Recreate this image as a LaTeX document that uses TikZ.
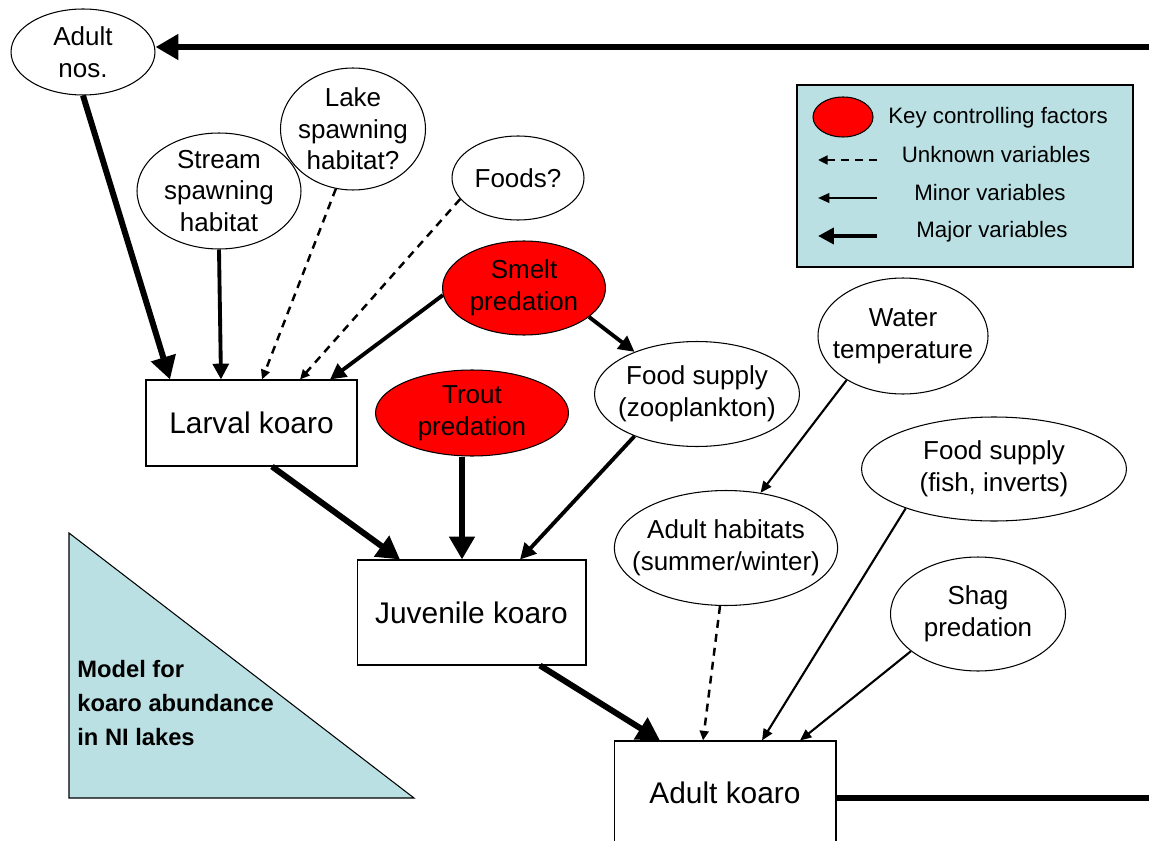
\documentclass[tikz,border=0pt]{standalone}
\usepackage{fontspec}
\setmainfont{Liberation Sans}
\usetikzlibrary{positioning,shapes.geometric,arrows.meta}
\definecolor{KeyRed}{HTML}{FF0000}
\definecolor{PanelBlue}{HTML}{BAE0E3}

\begin{document}
\begin{tikzpicture}[x=0.02cm, y=-0.02cm,
  every node/.style={align=center, inner sep=0pt},
  factor/.style={ellipse, draw, line width=0.6pt, fill=white, font=\fontsize{14.8}{18}\selectfont},
  keyfactor/.style={factor, fill=KeyRed},
  stage/.style={rectangle, draw, line width=0.6pt, fill=white, font=\fontsize{17}{20}\selectfont},
  legendtext/.style={font=\fontsize{12.7}{15}\selectfont},
  heavy/.style={line width=3.4pt, -{Triangle[length=13pt,width=14pt]}},
  major/.style={line width=2.2pt, -{Triangle[length=9pt,width=9pt]}},
  minor/.style={line width=1.2pt, -{Triangle[length=6.5pt,width=5.5pt]}},
  unknown/.style={line width=1.4pt, dash pattern=on 4.5pt off 3.5pt, -{Triangle[length=5.5pt,width=5pt]}}]
  \useasboundingbox (0,0) rectangle (1149,841);

  % model panel
  \draw[fill=PanelBlue, line width=0.6pt] (69,533) -- (69,798) -- (414,798) -- cycle;
  \node[anchor=west, align=left, font=\bfseries\fontsize{13.5}{19.6}\selectfont] (title) at (77,703) {Model for\\koaro abundance\\in NI lakes};

  % legend
  \node[draw, line width=0.8pt, fill=PanelBlue, minimum width=6.72cm, minimum height=3.64cm] (legend) at (965,176) {};
  \node[keyfactor, minimum width=1.2cm, minimum height=0.8cm] (keysample) at (843,117) {};
  \node[legendtext] (keytext) at (998,118) {Key controlling factors};
  \coordinate (unkA) at (877,160);
  \coordinate (unkB) at (818,160);
  \coordinate (minA) at (877,198);
  \coordinate (minB) at (818,198);
  \coordinate (majA) at (877,236);
  \coordinate (majB) at (818,236);
  \draw[unknown] (unkA) -- (unkB);
  \draw[minor] (minA) -- (minB);
  \draw[major] (majA) -- (majB);
  \node[legendtext] (unktext) at (996,155) {Unknown variables};
  \node[legendtext] (mintext) at (990,193) {Minor variables};
  \node[legendtext] (majtext) at (992,232) {Major variables};

  % factors
  \node[factor, minimum width=2.88cm, minimum height=1.72cm] (adultnos) at (83,52) {Adult\\nos.};
  \node[factor, inner xsep=-0.13cm, minimum width=2.9cm, minimum height=2.44cm] (lake) at (353,129) {Lake\\spawning\\habitat?};
  \node[factor, minimum width=3.28cm, minimum height=2.32cm] (stream) at (219,191) {Stream\\spawning\\habitat};
  \node[factor, minimum width=2.64cm, minimum height=1.68cm] (foods) at (518,178) {Foods?};
  \node[keyfactor, minimum width=3.26cm, minimum height=1.88cm] (smelt) at (524,288) {Smelt\\predation};
  \node[keyfactor, minimum width=3.86cm, minimum height=1.72cm] (trout) at (472,413) {Trout\\predation};
  \node[factor, inner xsep=-0.16cm, minimum width=4.1cm, minimum height=2.1cm] (zoo) at (697,394) {Food supply\\(zooplankton)};
  \node[factor, inner xsep=-0.2cm, minimum width=3.4cm, minimum height=2.32cm] (water) at (903,336) {Water\\temperature};
  \node[factor, minimum width=5.3cm, minimum height=2.08cm] (fish) at (994,469) {Food supply\\(fish, inverts)};
  \node[factor, inner xsep=-0.3cm, minimum width=4.38cm, minimum height=2.3cm] (habitats) at (726,548) {Adult habitats\\(summer/winter)};
  \node[factor, minimum width=3.5cm, minimum height=2.28cm] (shag) at (978,614) {Shag\\predation};

  % life stages
  \node[stage, minimum width=4.22cm, minimum height=1.72cm] (larval) at (251.5,423) {Larval koaro};
  \node[stage, minimum width=4.58cm, minimum height=2.1cm] (juvenile) at (471.5,612.5) {Juvenile koaro};
  \node[stage, minimum width=4.44cm, minimum height=2.08cm] (adult) at (725,793) {Adult koaro};

  % links
  \draw[heavy] (adultnos.south) -- ([xshift=-1.63cm]larval.north);
  \draw[major] (stream.south) -- ([xshift=-0.61cm]larval.north);
  \draw[unknown] (lake.254) -- ([xshift=0.21cm]larval.north);
  \draw[unknown] (foods.200) -- ([xshift=0.97cm]larval.north);
  \draw[major] (smelt.185) -- ([xshift=1.57cm]larval.north);
  \draw[major] (smelt.336) -- (zoo.146);
  \draw[heavy] ([xshift=0.41cm]larval.south) -- ([xshift=-1.43cm]juvenile.north);
  \draw[heavy] ([xshift=-0.2cm]trout.south) -- ([xshift=-0.2cm]trout.south |- juvenile.north);
  \draw[major] (zoo.214) -- ([xshift=0.97cm]juvenile.north);
  \draw[minor] (water.218) -- (habitats.58);
  \draw[heavy] ([xshift=1.37cm]juvenile.south) -- ([xshift=-1.3cm]adult.north);
  \draw[unknown] ([xshift=-0.12cm]habitats.south) -- ([xshift=-0.44cm]adult.north);
  \draw[minor] (fish.204) -- ([xshift=0.74cm]adult.north);
  \draw[minor] (shag.209) -- ([xshift=1.5cm]adult.north);

  % return loop
  \coordinate (loopr) at (1149,798);
  \coordinate (loopt) at (1149,47);
  \draw[line width=3.4pt] ([yshift=-0.1cm]adult.east) -- (loopr);
  \draw[heavy] (loopt) -- (loopt -| adultnos.east);
\end{tikzpicture}
\end{document}
